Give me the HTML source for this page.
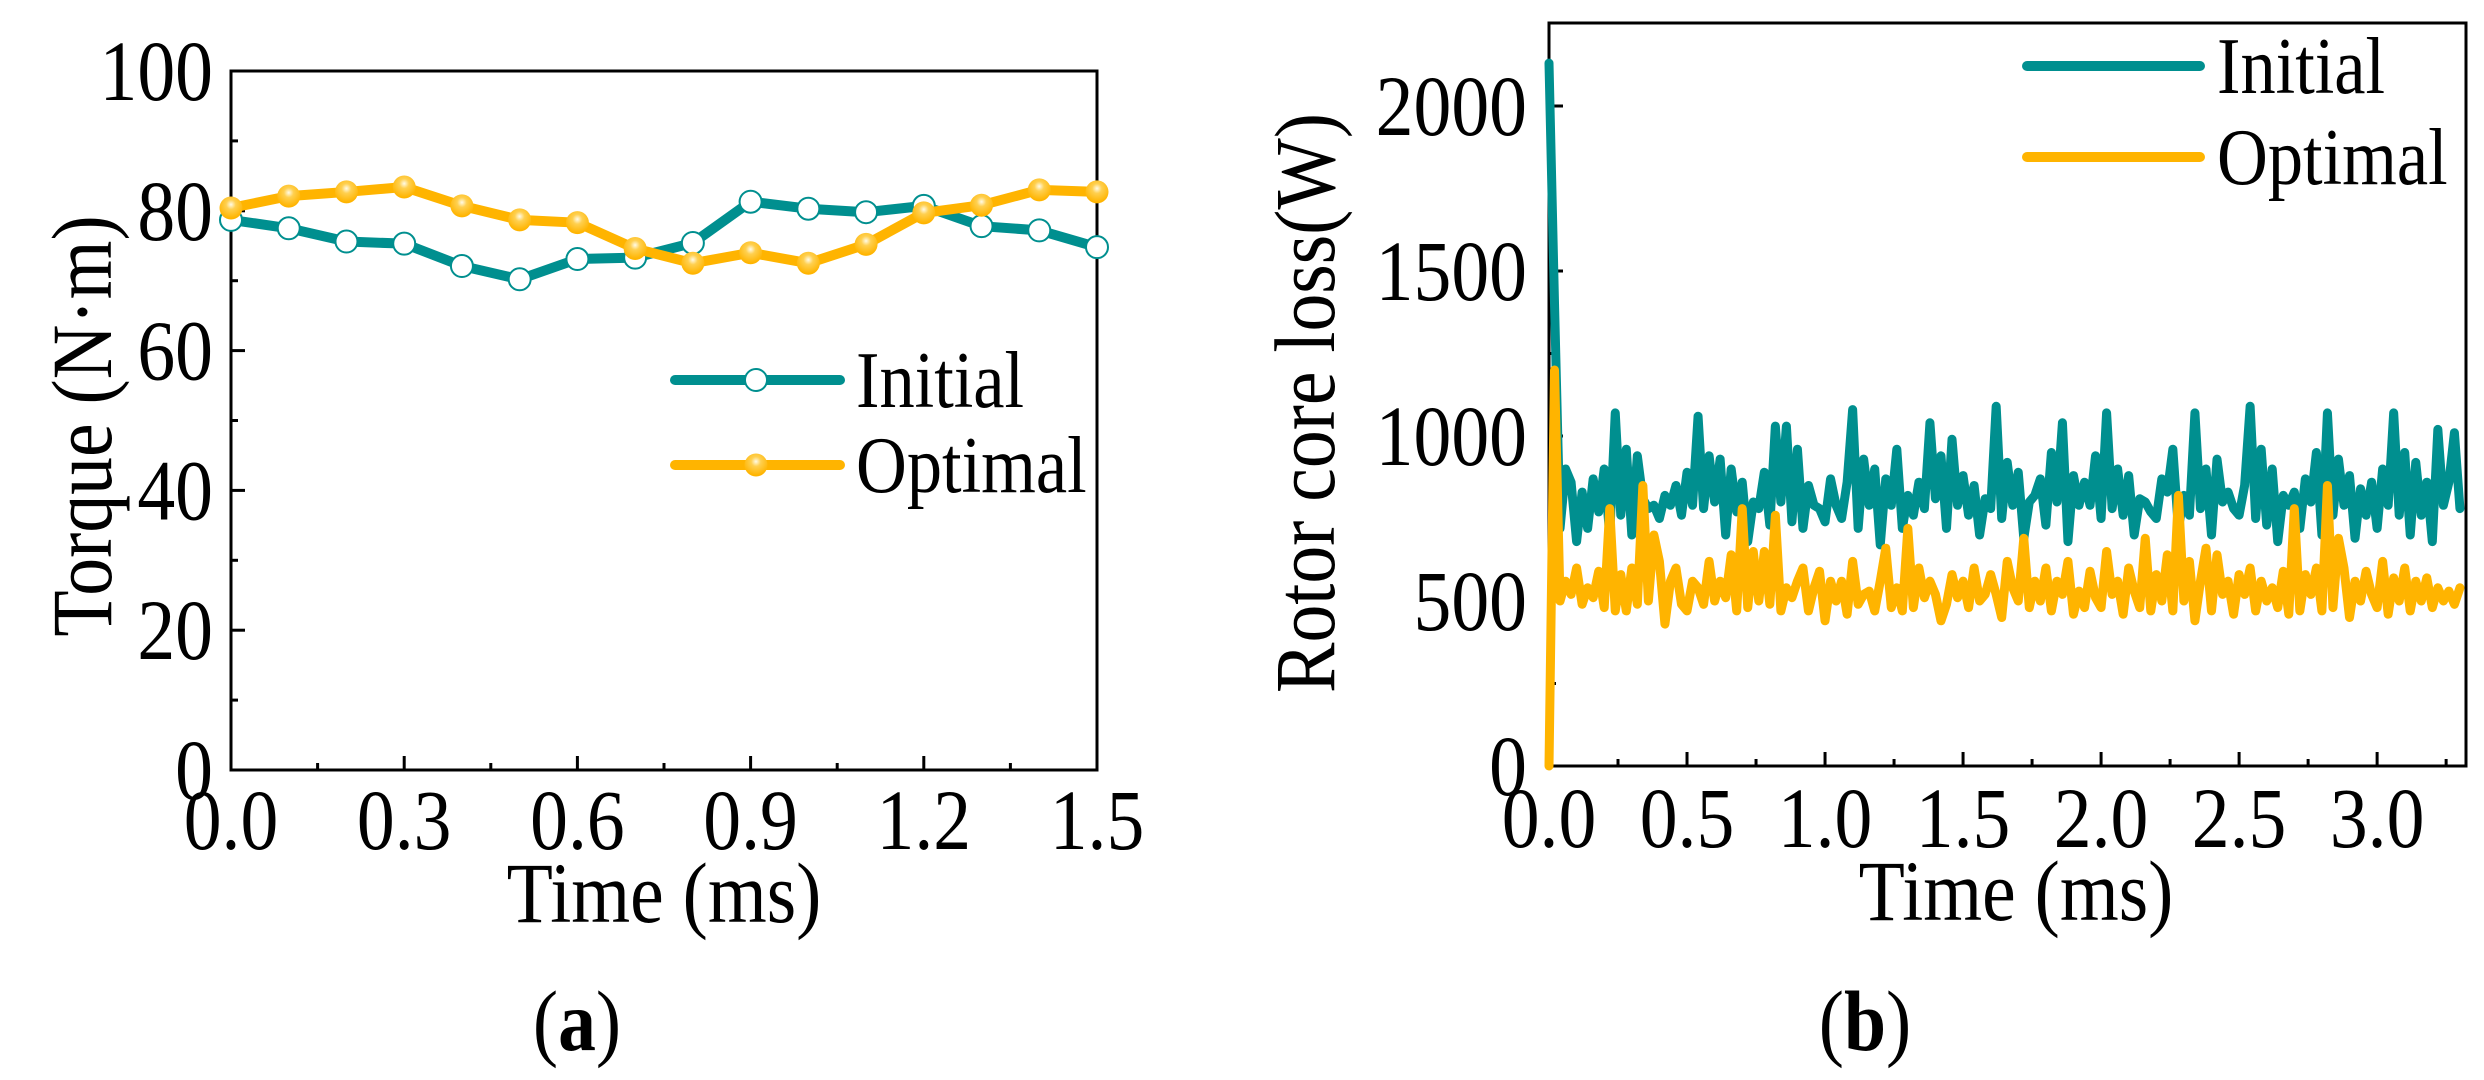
<!DOCTYPE html>
<html><head><meta charset="utf-8"><style>
html,body{margin:0;padding:0;background:#fff;}
svg{display:block;font-family:"Liberation Serif",serif;}
</style></head><body>
<svg id="fig" width="2484" height="1080" viewBox="0 0 2484 1080">
<defs>
<radialGradient id="og" cx="0.5" cy="0.35" r="0.6">
<stop offset="0" stop-color="#fffbe8"/><stop offset="0.35" stop-color="#ffd050"/><stop offset="1" stop-color="#ffb400"/>
</radialGradient>
</defs>
<g id="pa"></g>
<g id="pb"></g>
<text transform="translate(577,1050) scale(0.88,1)" font-size="86" text-anchor="middle">(<tspan font-weight="bold">a</tspan>)</text>
<text transform="translate(1865,1050) scale(0.88,1)" font-size="86" text-anchor="middle">(<tspan font-weight="bold">b</tspan>)</text>
</svg>
<script>
// Panel (a) data
const aTimes = [0,0.1,0.2,0.3,0.4,0.5,0.6,0.7,0.8,0.9,1.0,1.1,1.2,1.3,1.4,1.5];
const aInitial = [78.7,77.5,75.6,75.3,72.1,70.2,73.1,73.3,75.4,81.3,80.3,79.8,80.7,77.8,77.2,74.8];
const aOptimal = [80.4,82.1,82.7,83.4,80.7,78.7,78.3,74.6,72.5,74.0,72.5,75.2,79.7,80.8,83.0,82.7];
const aXTicks = ["0.0","0.3","0.6","0.9","1.2","1.5"];
const aYTicks = ["0","20","40","60","80","100"];
// Panel (b) data
const bStep = 0.02;
const bInitial = [2130,1400,720,900,860,680,830,720,870,770,900,700,1070,760,960,700,940,810,780,790,750,820,790,850,760,890,790,1060,780,940,800,930,700,900,770,860,680,800,780,890,730,1030,800,1030,740,960,720,850,790,780,740,870,790,750,860,1080,720,930,790,900,670,870,790,960,720,820,760,860,780,1040,810,940,720,990,790,880,760,850,700,810,780,1090,750,920,790,890,690,800,820,870,730,950,800,1040,680,880,790,860,790,940,750,1070,780,900,760,880,700,810,800,770,750,870,830,960,720,820,760,1070,780,900,700,930,800,830,780,760,850,1090,750,960,730,900,680,820,790,830,720,870,800,950,700,1070,760,930,790,880,690,840,760,860,720,900,790,1070,760,950,700,920,760,860,680,1020,790,860,1010,780];
const bOptimal = [0,1200,500,560,520,600,490,540,510,590,480,780,470,580,470,600,490,850,500,700,620,430,560,600,490,470,560,540,490,620,500,560,510,640,470,780,480,650,500,650,490,760,470,540,510,560,600,470,540,590,440,560,500,560,460,620,490,520,530,470,560,660,480,540,470,720,480,600,510,560,520,440,490,580,510,560,480,600,500,520,580,520,450,620,540,500,690,480,560,500,600,470,560,520,620,460,530,480,590,510,480,650,520,560,460,600,530,480,690,470,580,500,640,470,820,500,620,440,560,660,470,640,520,560,460,580,520,600,470,560,500,540,480,590,460,780,470,580,520,600,470,850,480,690,600,450,560,500,590,520,480,620,460,570,500,600,470,560,500,570,480,540,500,530,490,540];
const bXTicks = ["0.0","0.5","1.0","1.5","2.0","2.5","3.0"];
const bYTicks = ["0","500","1000","1500","2000"];

const NS = "http://www.w3.org/2000/svg";
const TEAL = "#008f8f", ORANGE = "#ffb400";
const FS = 86, SX = 0.88;
function mk(parent, tag, attrs){ const e=document.createElementNS(NS,tag); for(const k in attrs) e.setAttribute(k,attrs[k]); parent.appendChild(e); return e; }
function txt(parent, x, y, s, anchor, rot, fs){
  const tr = 'translate('+x+','+y+')'+(rot?' rotate(-90)':'')+' scale('+SX+',1)';
  const t = mk(parent,'text',{transform:tr,'font-size':fs||FS,'text-anchor':anchor||'start'});
  t.textContent = s;
  return t;
}

// ---------- Panel A ----------
(function(){
  const g = document.getElementById('pa');
  const L=231,R=1097,T=71,B=770, xmax=1.5, ymax=100;
  const sx=v=>L+(v/xmax)*(R-L), sy=v=>B-(v/ymax)*(B-T);
  const frame = mk(g,'rect',{x:L,y:T,width:R-L,height:B-T,fill:'none',stroke:'#000','stroke-width':3});
  
  
  for(let i=0;i<=10;i++){
    const v=i*0.15, major=i%2===0;
    const t=mk(g,'line',{x1:sx(v),x2:sx(v),y1:B,y2:B-(major?14:7),stroke:'#000','stroke-width':3});
    
    
  }
  aXTicks.forEach(s=>{
    const t=txt(g,sx(parseFloat(s)),849,s,'middle');
    
    
  });
  for(let i=0;i<=10;i++){
    const v=i*10, major=i%2===0;
    const t=mk(g,'line',{x1:L,x2:L+(major?14:7),y1:sy(v),y2:sy(v),stroke:'#000','stroke-width':3});
    
    
  }
  aYTicks.forEach(s=>{
    const t=txt(g,213,sy(parseFloat(s))+29,s,'end');
    
    
  });
  const xt=txt(g,664,922,'Time (ms)','middle');
  
  
  const yt=txt(g,111,426,'Torque (N·m)','middle',true);
  
  
  function series(vals,color,name,hollow){
    const pts=vals.map((v,i)=>sx(aTimes[i])+','+sy(v)).join(' ');
    const pl=mk(g,'polyline',{points:pts,fill:'none',stroke:color,'stroke-width':10,'stroke-linejoin':'round'});
    
    
    vals.forEach((v,i)=>{
      const c=mk(g,'circle',{cx:sx(aTimes[i]),cy:sy(v),r:hollow?11:11.5,fill:hollow?'#fff':'url(#og)',stroke:hollow?color:'none','stroke-width':2});
      
      
    });
  }
  series(aInitial,TEAL,'initial',true);
  series(aOptimal,ORANGE,'optimal',false);
  const lg=mk(g,'g',{});
  
  
  [[380,'Initial',TEAL,true],[465,'Optimal',ORANGE,false]].forEach(([y,lab,col,h])=>{
    const e=mk(lg,'g',{});
    
    
    mk(e,'line',{x1:675,x2:840,y1:y,y2:y,stroke:col,'stroke-width':10,'stroke-linecap':'round'});
    mk(e,'circle',{cx:756,cy:y,r:h?11:11.5,fill:h?'#fff':'url(#og)',stroke:h?col:'none','stroke-width':2});
    txt(e,856,y+27,lab,'start',false,80);
  });
})();

// ---------- Panel B ----------
(function(){
  const g=document.getElementById('pb');
  const L=1549,R=2466,T=23,B=766, xmax=3.322, ymax=2000*(766-23)/(766-106);
  const sx=v=>L+(v/xmax)*(R-L), sy=v=>B-(v/ymax)*(B-T);
  const frame=mk(g,'rect',{x:L,y:T,width:R-L,height:B-T,fill:'none',stroke:'#000','stroke-width':3});
  
  
  for(let i=0;i<=13;i++){
    const v=i*0.25, major=i%2===0;
    const t=mk(g,'line',{x1:sx(v),x2:sx(v),y1:B,y2:B-(major?14:7),stroke:'#000','stroke-width':3});
    
    
  }
  bXTicks.forEach(s=>{
    const t=txt(g,sx(parseFloat(s)),847,s,'middle');
    
    
  });
  for(let i=0;i<=8;i++){
    const v=i*250, major=i%2===0;
    const t=mk(g,'line',{x1:L,x2:L+(major?14:7),y1:sy(v),y2:sy(v),stroke:'#000','stroke-width':3});
    
    
  }
  bYTicks.forEach(s=>{
    const t=txt(g,1527,sy(parseFloat(s))+29,s,'end');
    
    
  });
  const xt=txt(g,2016,920,'Time (ms)','middle');
  
  
  const yt=txt(g,1334,403,'Rotor core loss(W)','middle',true);
  
  
  function series(vals,color,name){
    const pts=vals.map((v,i)=>sx(i*bStep)+','+sy(v)).join(' ');
    const pl=mk(g,'polyline',{points:pts,fill:'none',stroke:color,'stroke-width':9,'stroke-linejoin':'round','stroke-linecap':'round'});
    
    
  }
  series(bInitial,TEAL,'initial');
  series(bOptimal,ORANGE,'optimal');
  const lg=mk(g,'g',{});
  
  
  [[66,'Initial',TEAL],[157,'Optimal',ORANGE]].forEach(([y,lab,col])=>{
    const e=mk(lg,'g',{});
    
    
    mk(e,'line',{x1:2027,x2:2200,y1:y,y2:y,stroke:col,'stroke-width':10,'stroke-linecap':'round'});
    txt(e,2217,y+27,lab,'start',false,80);
  });
})();
</script>
</body></html>
